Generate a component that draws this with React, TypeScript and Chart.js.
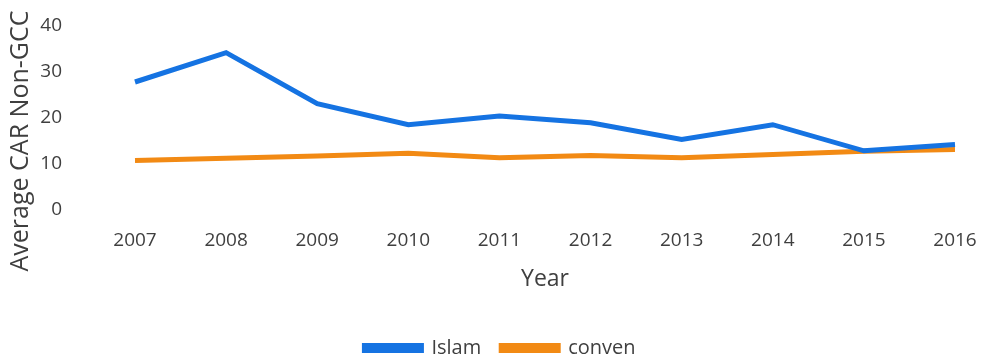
import React, { useEffect, useRef } from "react";
import { Chart, registerables } from "chart.js";

Chart.register(...registerables);

const years = ["2007", "2008", "2009", "2010", "2011", "2012", "2013", "2014", "2015", "2016"];
const islam = [27.8, 34.2, 23.1, 18.5, 20.4, 18.9, 15.3, 18.5, 12.8, 14.2];
const conven = [10.7, 11.2, 11.7, 12.3, 11.3, 11.8, 11.3, 12.0, 12.7, 13.1];
const yTicks = [0, 10, 20, 30, 40];
const yTitle = "Average CAR Non-GCC";

const FONT = "'Open Sans', sans-serif";
const TEXT = "#3f3f3f";

const yTitlePlugin = {
  id: "yTitle",
  afterDraw(chart: any) {
    const ctx = chart.ctx;
    ctx.save();
    ctx.translate(21, 141);
    ctx.rotate(-Math.PI / 2);
    ctx.font = `25px ${FONT}`;
    ctx.fillStyle = TEXT;
    ctx.textAlign = "center";
    ctx.textBaseline = "middle";
    ctx.fillText(yTitle, 0, 0);
    ctx.restore();
  },
};

export default function App() {
  const ref = useRef<HTMLCanvasElement>(null);
  useEffect(() => {
    if (!ref.current) return;
    const chart = new Chart(ref.current, {
      type: "line",
      data: {
        labels: years,
        datasets: [
          { label: "Islam", data: islam, borderColor: "#1573E2", backgroundColor: "#1573E2", borderWidth: 5, pointRadius: 0, tension: 0 },
          { label: "conven", data: conven, borderColor: "#F28A14", backgroundColor: "#F28A14", borderWidth: 5, pointRadius: 0, tension: 0 },
        ],
      },
      options: {
        animation: false,
        responsive: false,
        layout: { padding: { left: 36, right: 20, top: 26, bottom: -10 } },
        plugins: {
          tooltip: { enabled: false },
          legend: {
            position: "bottom",
            labels: {
              font: { family: FONT, size: 20 },
              color: TEXT,
              boxWidth: 57,
              boxHeight: 5,
              padding: 20,
            },
          },
        },
        scales: {
          x: {
            offset: false,
            grid: { display: false, drawTicks: false },
            border: { display: false },
            afterFit: (s: any) => { s.paddingLeft = 0; s.paddingRight = 29; },
            ticks: { font: { family: FONT, size: 19 }, color: TEXT, padding: 20, maxRotation: 0, autoSkip: false },
            title: { display: true, text: "Year", font: { family: FONT, size: 23 }, color: TEXT, padding: { top: -7, bottom: 25 } },
          },
          y: {
            min: 0,
            max: 40,
            grid: { display: false, drawTicks: false },
            border: { display: false },
            afterBuildTicks: (s: any) => { s.ticks = yTicks.map((v) => ({ value: v })); },
            afterFit: (s: any) => { s.width = 99; s.paddingTop = 0; s.paddingBottom = 0; },
            ticks: { font: { family: FONT, size: 19 }, color: TEXT, padding: 73, autoSkip: false },
            title: { display: false },
          },
        },
      } as any,
      plugins: [yTitlePlugin],
    });
    return () => chart.destroy();
  }, []);
  return (
    <div style={{ position: "fixed", left: 0, top: 0, width: 984, height: 358, background: "#fff" }}>
      <canvas ref={ref} width={984} height={358} style={{ display: "block" }} />
    </div>
  );
}
